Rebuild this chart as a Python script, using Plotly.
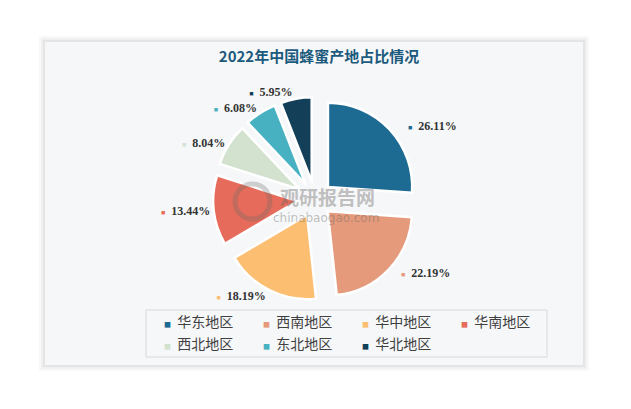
import plotly.graph_objects as go

regions = ["华东地区", "西南地区", "华中地区", "华南地区", "西北地区", "东北地区", "华北地区"]
shares = [26.11, 22.19, 18.19, 13.44, 8.04, 6.08, 5.95]
colors = ["#1d6a93", "#e59a7b", "#fcbf72", "#e66b5a", "#d3e1cf", "#47b1c2", "#143f58"]
title_text = "2022年中国蜂蜜产地占比情况"

W, H = 631, 409


def px(x):
    return x / W


def py(y):
    return (H - y) / H


# extra leading gap for labels on the right-hand side (they sit further out in the reference)
lead = ["\u00a0" * 5, "\u00a0" * 3, "", "", "", "", ""]
templates = [
    '%s<span style="color:%s;font-size:7px">■</span>  %%{value:.2f}%%' % (g, c)
    for g, c in zip(lead, colors)
]

fig = go.Figure()
fig.add_trace(go.Pie(
    labels=regions,
    values=shares,
    sort=False,
    direction="clockwise",
    rotation=0,
    pull=0.21,
    marker=dict(colors=colors, line=dict(color="#ffffff", width=2.5)),
    texttemplate=templates,
    textposition="outside",
    textfont=dict(family="Liberation Serif, serif", size=12, color="#333333", weight="bold"),
    domain=dict(x=[px(213), px(417)], y=[py(301), py(97)]),
    showlegend=False,
    hoverinfo="label+percent",
))

# legend entries (two rows, like the reference) built from the same data
for i, (name, c) in enumerate(zip(regions, colors)):
    fig.add_trace(go.Scatter(
        x=[None], y=[None], mode="markers",
        name='<span style="color:%s;font-size:7px">■</span>  %s' % (c, name),
        marker=dict(color="rgba(0,0,0,0)", size=1),
        legend="legend" if i < 4 else "legend2",
        showlegend=True, hoverinfo="skip",
    ))
# blank trailing entries so the last visible entry of each row is not clipped
for lg in ["legend", "legend2"]:
    fig.add_trace(go.Scatter(
        x=[None], y=[None], mode="markers", name=" ",
        marker=dict(color="rgba(0,0,0,0)", size=1),
        legend=lg, showlegend=True, hoverinfo="skip",
    ))

shapes = []
for i, op in enumerate([0.025, 0.035, 0.045]):
    d = 6 - 2 * i
    shapes.append(dict(type="rect", xref="paper", yref="paper",
                       x0=px(45 - d), x1=px(583 + d), y0=py(365 + d), y1=py(42 - d),
                       fillcolor="rgba(0,0,0,%s)" % op, line=dict(width=0), layer="below"))
shapes.append(dict(type="rect", xref="paper", yref="paper",
                   x0=px(45), x1=px(583), y0=py(365), y1=py(42),
                   fillcolor="#f6f7f8", line=dict(width=0), layer="below"))
# legend box
shapes.append(dict(type="rect", xref="paper", yref="paper",
                   x0=px(146), x1=px(547), y0=py(357), y1=py(310),
                   fillcolor="rgba(0,0,0,0)", line=dict(color="#d9d9d9", width=1), layer="below"))
# watermark logo ring
shapes.append(dict(type="circle", xref="paper", yref="paper",
                   x0=px(235), x1=px(270), y0=py(219), y1=py(184),
                   fillcolor="rgba(0,0,0,0)", line=dict(color="rgba(110,110,110,0.3)", width=5),
                   layer="above"))

annotations = [
    dict(text="<b>观研报告网</b>", x=px(327), y=py(196), xref="paper", yref="paper",
         showarrow=False, font=dict(family="Noto Sans CJK SC", size=19, color="rgba(100,100,100,0.4)")),
    dict(text="chinabaogao.com", x=px(326), y=py(218), xref="paper", yref="paper",
         showarrow=False, font=dict(family="DejaVu Sans", size=12, color="rgba(100,100,100,0.4)")),
]

legend_common = dict(orientation="h", xanchor="left", yanchor="middle",
                     entrywidth=54, bgcolor="rgba(0,0,0,0)", borderwidth=0,
                     font=dict(family="Noto Sans CJK SC", size=14, color="#404040"),
                     itemclick=False, itemdoubleclick=False)

fig.update_layout(
    width=W, height=H,
    margin=dict(l=0, r=0, t=0, b=0),
    paper_bgcolor="#ffffff",
    plot_bgcolor="rgba(0,0,0,0)",
    xaxis=dict(visible=False, range=[0, 1]),
    yaxis=dict(visible=False, range=[0, 1]),
    title=dict(text="<b>" + title_text + "</b>", x=px(319), xref="paper", xanchor="center",
               y=py(57), yref="paper", yanchor="middle",
               font=dict(family="Noto Sans CJK SC", size=15, color="#1c5a7d")),
    legend=dict(x=px(124), y=py(322), **legend_common),
    legend2=dict(x=px(124), y=py(344), **legend_common),
    shapes=shapes,
    annotations=annotations,
)

fig.write_html("out.html")
